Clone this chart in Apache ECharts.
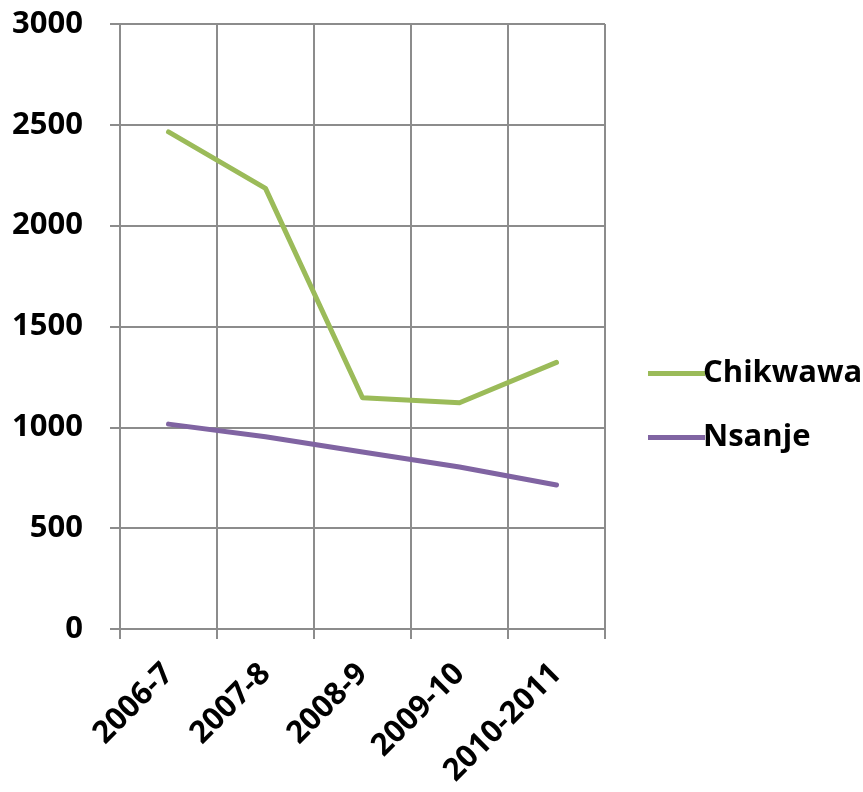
<!DOCTYPE html>
<html>
<head>
<meta charset="utf-8">
<script src="https://cdn.jsdelivr.net/npm/echarts@6/dist/echarts.min.js"></script>
<style>
  html, body { margin: 0; padding: 0; background: #fff; }
  #chart { width: 863px; height: 792px; }
</style>
</head>
<body>
<div id="chart"></div>
<script>
// Yearly totals for the two districts
const seasons = ['2006-7', '2007-8', '2008-9', '2009-10', '2010-2011'];
const chikwawa = [2465, 2185, 1147, 1122, 1322];
const nsanje = [1016, 953, 878, 803, 714];
const yTicks = { min: 0, max: 3000, interval: 500 };

const FONT = '"Open Sans", "Liberation Sans", sans-serif';
const FONT_SIZE = 31;
const gridColor = '#8c8c8c';

const chart = echarts.init(document.getElementById('chart'), null, { renderer: 'canvas' });

chart.setOption({
  animation: false,
  backgroundColor: '#ffffff',
  grid: { left: 120, right: 258, top: 24, bottom: 163, containLabel: false },
  legend: {
    orient: 'vertical',
    left: 643,
    top: 353,
    itemWidth: 57,
    itemHeight: 5,
    itemGap: 33,
    icon: 'rect',
    textStyle: { fontFamily: FONT, fontWeight: 'bold', fontSize: FONT_SIZE, color: '#000', padding: [0, 0, 0, -7] },
    data: ['Chikwawa', 'Nsanje']
  },
  xAxis: {
    type: 'category',
    data: seasons,
    boundaryGap: true,
    axisLine: { lineStyle: { color: gridColor, width: 2 } },
    axisTick: { show: true, length: 10, alignWithLabel: false, lineStyle: { color: gridColor, width: 2 } },
    splitLine: { show: true, lineStyle: { color: gridColor, width: 2 } },
    axisLabel: {
      rotate: 45,
      margin: 40,
      interval: 0,
      fontFamily: FONT,
      fontWeight: 'bold',
      fontSize: FONT_SIZE,
      color: '#000'
    }
  },
  yAxis: {
    type: 'value',
    min: yTicks.min,
    max: yTicks.max,
    interval: yTicks.interval,
    axisLine: { show: true, lineStyle: { color: gridColor, width: 2 } },
    axisTick: { show: true, length: 10, lineStyle: { color: gridColor, width: 2 } },
    splitLine: { show: true, lineStyle: { color: gridColor, width: 2 } },
    axisLabel: {
      margin: 37,
      formatter: (v) => String(v),
      fontFamily: FONT,
      fontWeight: 'bold',
      fontSize: FONT_SIZE,
      color: '#000'
    }
  },
  series: [
    {
      name: 'Chikwawa',
      type: 'line',
      data: chikwawa,
      symbol: 'none',
      color: '#9bbb59',
      lineStyle: { color: '#9bbb59', width: 5, cap: 'round', join: 'round' }
    },
    {
      name: 'Nsanje',
      type: 'line',
      data: nsanje,
      symbol: 'none',
      color: '#8064a2',
      lineStyle: { color: '#8064a2', width: 5, cap: 'round', join: 'round' }
    }
  ]
});
</script>
</body>
</html>
